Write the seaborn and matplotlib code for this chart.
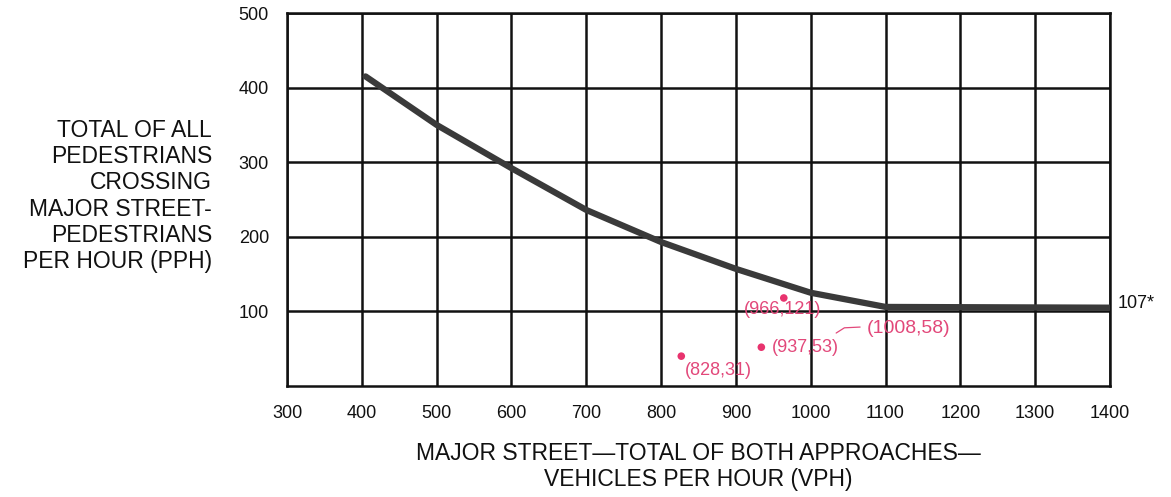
import matplotlib
matplotlib.use("Agg")
import matplotlib.pyplot as plt
import seaborn as sns
import pandas as pd
from matplotlib.transforms import blended_transform_factory

# ---- data ----
curve_vph = [405, 500, 600, 700, 800, 900, 1000, 1100, 1400]
curve_pph = [415, 350, 292, 236, 193, 157, 125, 106, 105]

point_vph = [964, 934, 827]
point_pph = [118, 52, 40]
point_labels = ["(966,121)", "(937,53)", "(828,31)"]
label_pos_x = [962, 993, 877]
label_pos_y = [102, 51, 21]

extra_label = "(1008,58)"
extra_label_xy = (1131, 77)

x_ticks = [300, 400, 500, 600, 700, 800, 900, 1000, 1100, 1200, 1300, 1400]
y_ticks = [100, 200, 300, 400, 500]
threshold_label = "107*"

# ---- styling ----
sns.set_style("white")
plt.rcParams["font.family"] = ["Liberation Sans", "DejaVu Sans"]

fig = plt.figure(figsize=(11.71, 4.97), dpi=100)
ax = fig.add_axes([287 / 1171, 1 - 386 / 497, (1110 - 287) / 1171, (386 - 13) / 497])

curve_df = pd.DataFrame({"vph": curve_vph, "pph": curve_pph})
sns.lineplot(data=curve_df, x="vph", y="pph", ax=ax, color="#3a3a3a", lw=4.5,
             sort=False, zorder=3)

pts_df = pd.DataFrame({"vph": point_vph, "pph": point_pph})
pink = "#e2487a"
sns.scatterplot(data=pts_df, x="vph", y="pph", ax=ax, color="#e8336e", s=30,
                edgecolor="none", zorder=4)

for lbl, lx, ly in zip(point_labels, label_pos_x, label_pos_y):
    ax.text(lx, ly, lbl, color=pink, fontsize=13, ha="center", va="center",
            zorder=5)
ax.text(extra_label_xy[0], extra_label_xy[1], extra_label, color=pink,
        fontsize=14, ha="center", va="center", zorder=5)
ax.plot([1034, 1045, 1066], [71, 78, 79], color=pink, lw=0.9, zorder=5)

ax.set_xlim(300, 1400)
ax.set_ylim(0, 500)
ax.set_xticks(x_ticks)
ax.set_yticks(y_ticks)
ax.set_xticklabels([str(t) for t in x_ticks], fontsize=13)
ax.set_yticklabels([str(t) for t in y_ticks], fontsize=13)
ax.tick_params(axis="both", length=0, colors="#111111")
ax.tick_params(axis="x", pad=14)
ax.tick_params(axis="y", pad=13)

ax.grid(True, color="#111111", lw=1.8)
ax.set_axisbelow(True)
for s in ax.spines.values():
    s.set_visible(True)
    s.set_color("#111111")
    s.set_linewidth(1.8)

ax.set_xlabel("MAJOR STREET\u2014TOTAL OF BOTH APPROACHES\u2014\nVEHICLES PER HOUR (VPH)",
              fontsize=16.5, labelpad=14, color="#111111", linespacing=1.2)
ax.set_ylabel("")

fig.text(212 / 1171, 1 - 196 / 497,
         "TOTAL OF ALL\nPEDESTRIANS\nCROSSING\nMAJOR STREET-\nPEDESTRIANS\nPER HOUR (PPH)",
         ha="right", va="center", multialignment="right", fontsize=16.5,
         color="#111111", linespacing=1.18)

trans = blended_transform_factory(ax.transAxes, ax.transData)
ax.text(1.009, 110, threshold_label, transform=trans, ha="left", va="center",
        fontsize=13, color="#111111")

fig.savefig("out.png", dpi=100, facecolor="white")
